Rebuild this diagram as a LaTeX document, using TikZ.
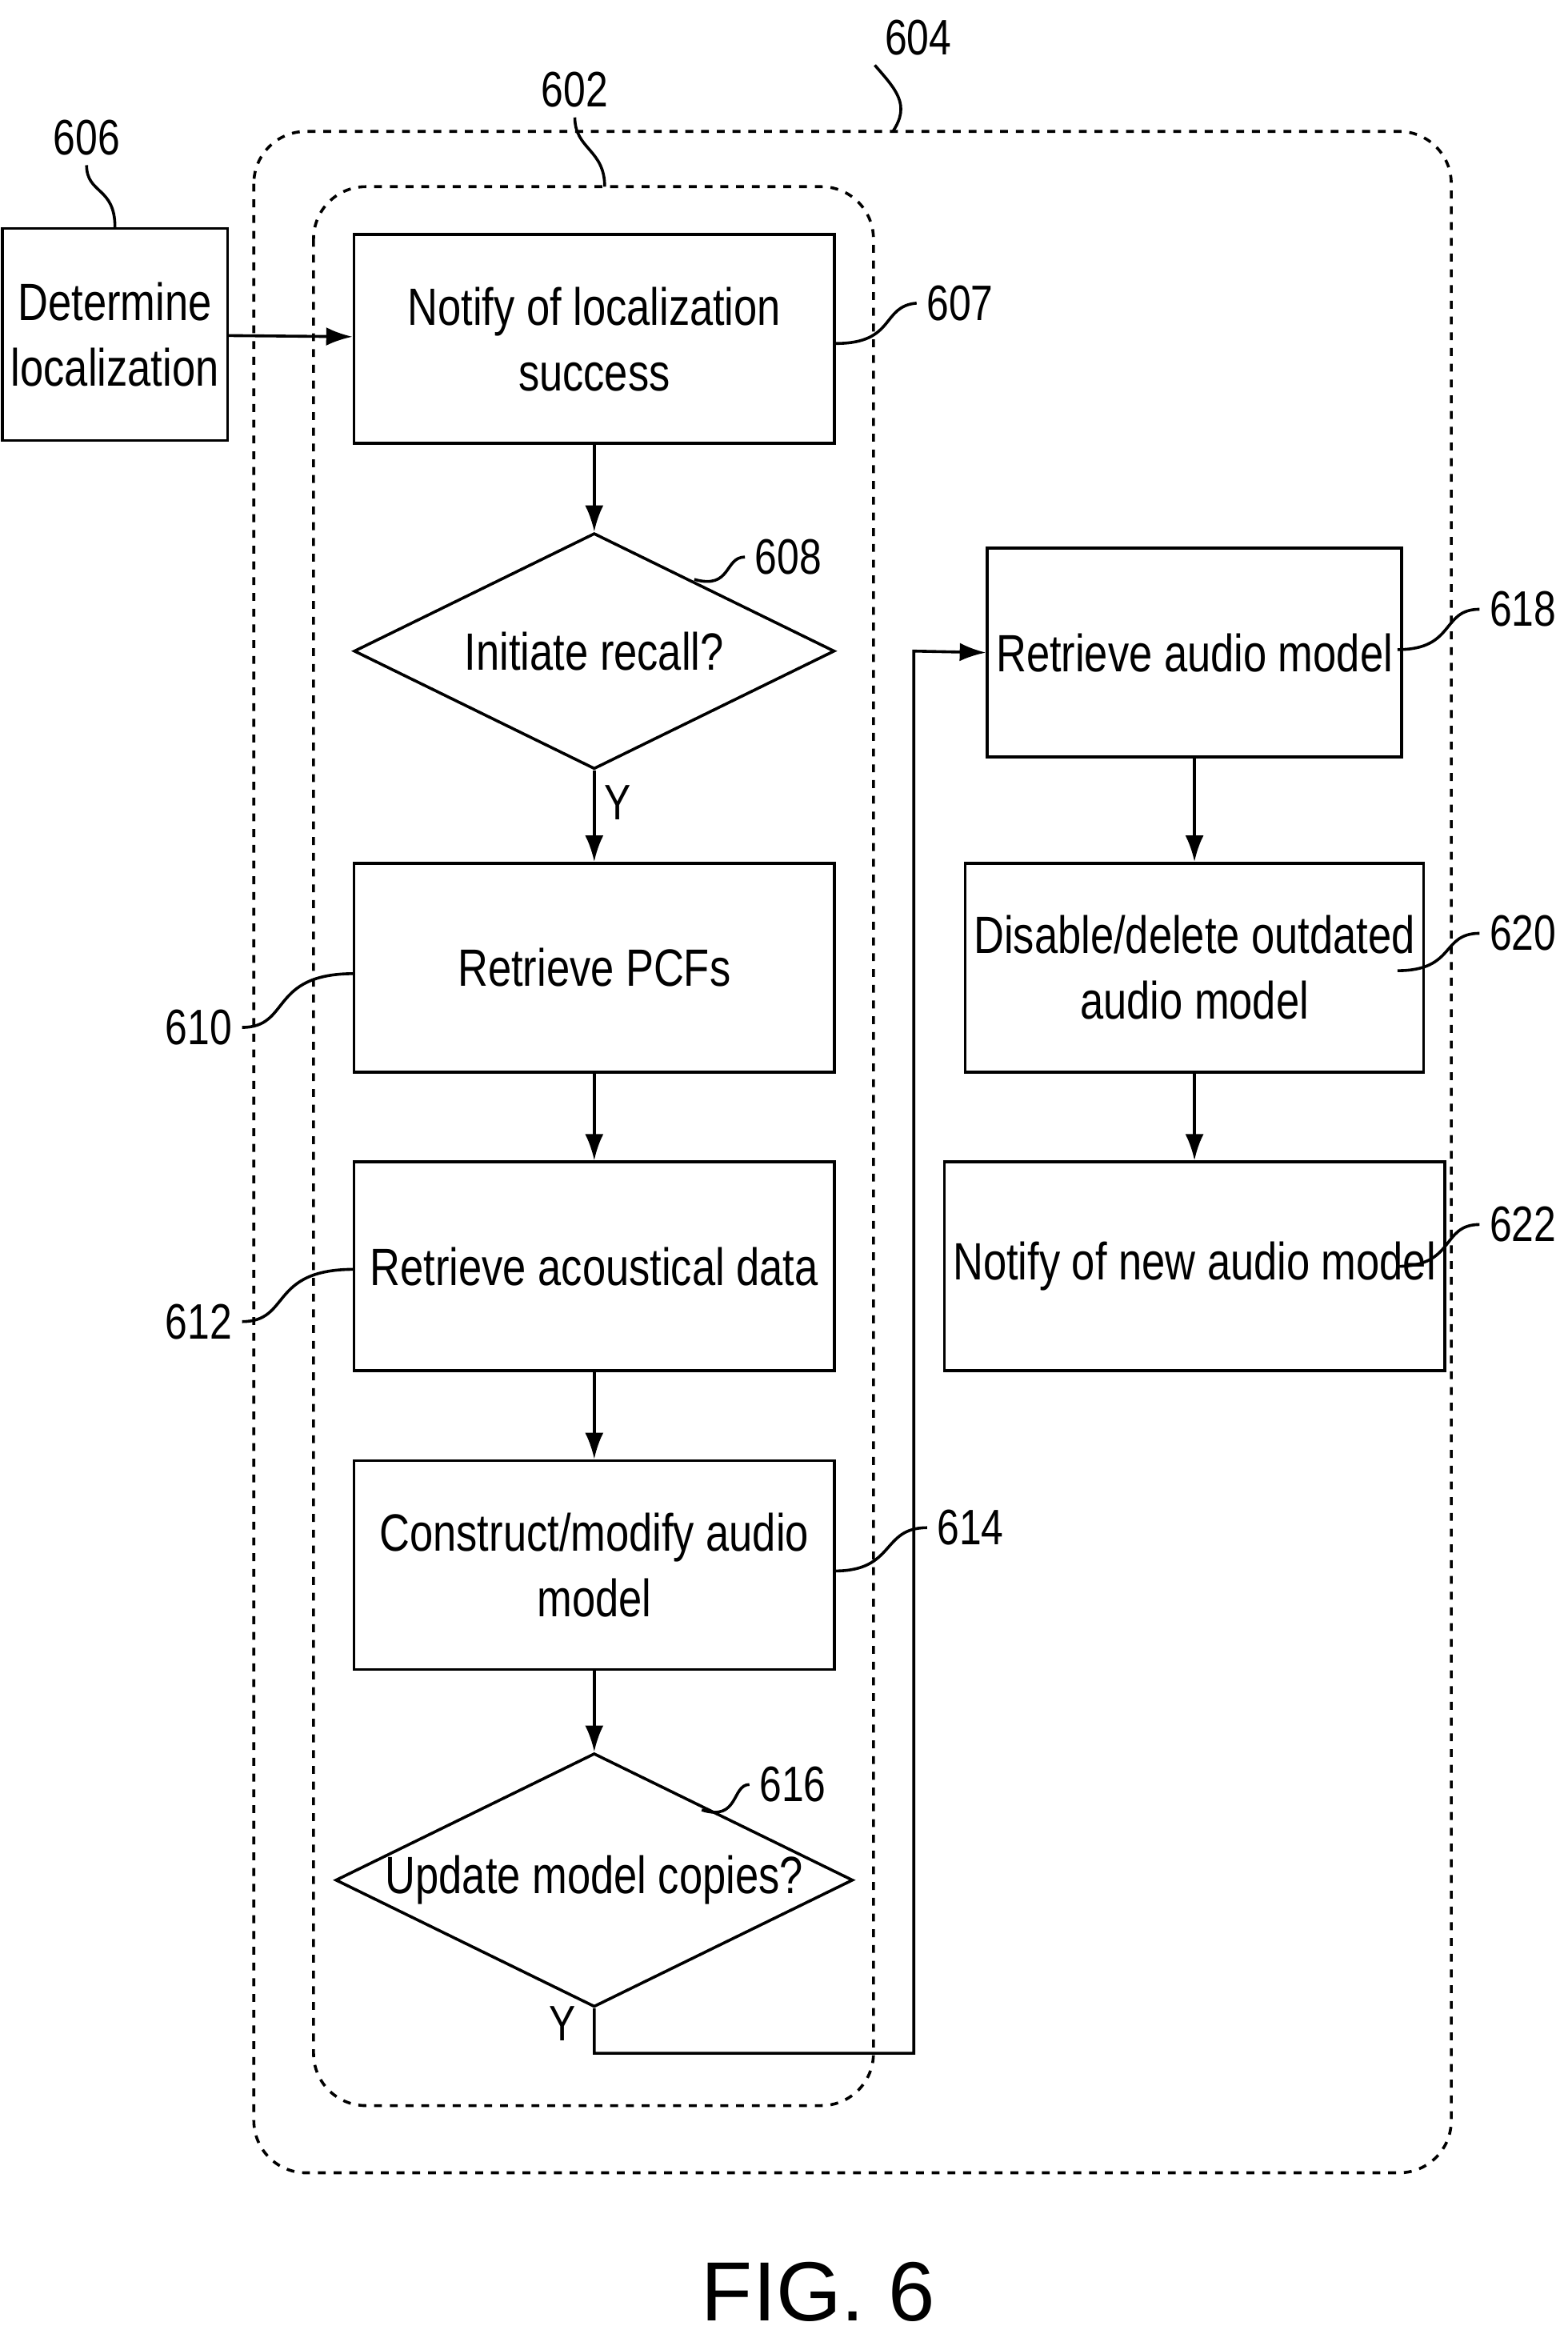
\documentclass[tikz,border=0pt]{standalone}
\usepackage{fontspec}
\setmainfont{Liberation Sans}[FakeStretch=0.8]
\newfontfamily\figfont{Liberation Sans}
\usetikzlibrary{shapes.geometric,arrows.meta}

\begin{document}
\begin{tikzpicture}[x=0.02cm,y=-0.02cm,line width=1.1pt,
  box/.style={draw,minimum width=6.44cm,minimum height=2.8cm,align=center,font=\fontsize{20}{25}\selectfont},
  rbox/.style={box,minimum width=5.46cm},
  dec/.style={draw,diamond,aspect=2.04,inner sep=0pt,minimum width=6.44cm,minimum height=3.16cm,font=\fontsize{20}{25}\selectfont},
  grp/.style={draw,dashed,rounded corners=0.7cm},
  num/.style={font=\fontsize{19}{22}\selectfont},
  flow/.style={-{Latex[length=10pt,width=7pt]}}]
\useasboundingbox (0,0) rectangle (1050,1571);
\draw[grp] (170,88) rectangle (972,1455);
\draw[grp] (210,125) rectangle (585,1410);
\node[box,minimum width=2.6cm,minimum height=2.84cm] (determine) at (77,224) {Determine\\localization};
\node[box] (notify) at (398,227) {Notify of localization\\success};
\node[dec] (recall) at (398,436) {Initiate recall?};
\node[box] (pcfs) at (398,648) {Retrieve PCFs};
\node[box] (acoustic) at (398,848) {Retrieve acoustical data};
\node[box] (construct) at (398,1048) {Construct/modify audio\\model};
\node[dec] (update) at (398,1259) {Update model copies?};
\node[rbox] (retrieve) at (800,437) {Retrieve audio model};
\node[rbox] (disable) at (800,648) {Disable/delete outdated\\audio model};
\node[rbox] (newmodel) at (800,848) {Notify of new audio model};
% flow
\draw[flow] (determine) -- (notify);
\draw[flow] (notify) -- (recall);
\draw[flow] (recall) -- (pcfs) node[pos=0.35,right,num] {Y};
\draw[flow] (pcfs) -- (acoustic);
\draw[flow] (acoustic) -- (construct);
\draw[flow] (construct) -- (update);
\draw[flow] (update.south) -- ++(0,30) -| (612,436) -- (retrieve.west);
\node[num] (yes) at (377,1355) {Y};
\draw[flow] (retrieve) -- (disable);
\draw[flow] (disable) -- (newmodel);
% reference numerals
\node[num] (n604) at (615,25) {604};
\draw (n604.south west) .. controls (600,60) and (610,70) .. (598,88);
\node[num] (n602) at (385,60) {602};
\draw (n602.south) .. controls (385,100) and (405,100) .. (405,125);
\node[num] (n606) at (58,92) {606};
\draw (n606.south) .. controls (58,130) and (77,125) .. (determine.north);
\node[num] (n607) at (643,203) {607};
\draw (notify.east |- 0,230) .. controls (600,230) and (590,205) .. (n607.west);
\node[num] (n608) at (528,373) {608};
\draw (465,388) .. controls (490,395) and (485,373) .. (n608.west);
\node[num] (n618) at (1020,408) {618};
\draw (936,435) .. controls (975,435) and (965,408) .. (n618.west);
\node[num] (n620) at (1020,625) {620};
\draw (936,650) .. controls (975,650) and (965,625) .. (n620.west);
\node[num] (n622) at (1020,820) {622};
\draw (936,848) .. controls (975,848) and (965,820) .. (n622.west);
\node[num] (n610) at (133,688) {610};
\draw (n610.east) .. controls (195,688) and (180,652) .. (237,652);
\node[num] (n612) at (133,885) {612};
\draw (n612.east) .. controls (195,885) and (180,850) .. (237,850);
\node[num] (n614) at (650,1023) {614};
\draw (559,1052) .. controls (600,1052) and (590,1023) .. (n614.west);
\node[num] (n616) at (531,1195) {616};
\draw (470,1212) .. controls (495,1220) and (490,1195) .. (n616.west);
\node[font=\figfont\fontsize{32}{36}\selectfont] (fig) at (548,1535) {FIG. 6};
\end{tikzpicture}
\end{document}
